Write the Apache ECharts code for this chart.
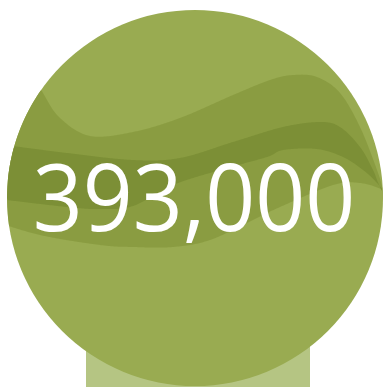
<!DOCTYPE html>
<html><head><meta charset="utf-8">
<script src="https://cdn.jsdelivr.net/npm/echarts@6/dist/echarts.min.js"></script>
<style>html,body{margin:0;padding:0;background:#fff}#c{width:384px;height:387px}</style>
</head><body><div id="c"></div>
<script>
// Data
const categories = ['Total'];
const values = [393000];
// Decorative wave bands (shape guide points, px)
const waveTopMedium = [[-10,20],[25,60],[43,93],[60,118],[90,136],[133,132],[180,118],[233,95],[270,80],[293,75],[317,77],[340,93],[360,127],[377,170],[384,193],[395,230]];
const waveBottomMedium = [[-10,220],[40,235],[100,245],[133,247],[173,247],[210,240],[253,220],[280,207],[333,185],[360,183],[383,190],[395,200]];
const waveTopDark = [[-10,143],[67,153],[133,160],[180,158],[233,142],[283,127],[320,122],[340,127],[360,147],[373,170],[380,187],[395,215]];
const waveBottomDark = [[-10,198],[67,207],[100,209],[133,206],[173,185],[220,170],[267,157],[283,150],[317,149],[343,157],[363,170],[377,183],[395,205]];

const CX = 195, CY = 198, R = 188;

function catmull(pts){
  const out=[];
  for(let i=0;i<pts.length-1;i++){
    const p0=pts[Math.max(i-1,0)],p1=pts[i],p2=pts[i+1],p3=pts[Math.min(i+2,pts.length-1)];
    for(let t=0;t<1;t+=0.05){
      const t2=t*t,t3=t2*t;
      const f=(a,b,c,d)=>0.5*((2*b)+(-a+c)*t+(2*a-5*b+4*c-d)*t2+(-a+3*b-3*c+d)*t3);
      out.push([f(p0[0],p1[0],p2[0],p3[0]),f(p0[1],p1[1],p2[1],p3[1])]);
    }
  }
  out.push(pts[pts.length-1]);
  return out;
}
function makeFn(pts){
  const d=catmull(pts);
  return x=>{
    if(x<=d[0][0])return d[0][1];
    for(let i=0;i<d.length-1;i++){
      if(x>=d[i][0]&&x<=d[i+1][0]){const t=(x-d[i][0])/((d[i+1][0]-d[i][0])||1);return d[i][1]+t*(d[i+1][1]-d[i][1]);}
    }
    return d[d.length-1][1];
  };
}
function band(topPts,botPts){
  const U=makeFn(topPts),L=makeFn(botPts);
  const top=[],bot=[];
  for(let x=CX-R;x<=CX+R;x+=1){
    const h=Math.sqrt(Math.max(0,R*R-(x-CX)*(x-CX)));
    const lo=CY-h,hi=CY+h;
    const clamp=v=>Math.min(hi,Math.max(lo,v));
    top.push([x,clamp(U(x))]);
    bot.push([x,clamp(L(x))]);
  }
  return top.concat(bot.reverse());
}
function fmt(v){return v.toString().replace(/\B(?=(\d{3})+(?!\d))/g, ',');}

const chart = echarts.init(document.getElementById('c'),null,{renderer:'canvas'});
chart.setOption({
  animation:false,
  graphic:[
    {type:'rect',z:0,shape:{x:86,y:338,width:224,height:60},style:{fill:'#b5c583'},silent:true},
    {type:'polygon',z:5,shape:{points:band(waveTopMedium,waveBottomMedium)},style:{fill:'#8a9c41'},silent:true},
    {type:'polygon',z:6,shape:{points:band(waveTopDark,waveBottomDark)},style:{fill:'#7c8f36'},silent:true},
    {type:'text',z:10,style:{text:fmt(values[0]),x:0,y:0,fill:'#ffffff',font:'400 93px "Open Sans", sans-serif',textAlign:'center',textVerticalAlign:'middle'},x:194,y:204,scaleX:0.94,silent:true}
  ],
  series:[{
    type:'pie',z:2,silent:true,center:[CX,CY],radius:[0,R],
    label:{show:false},labelLine:{show:false},
    itemStyle:{color:'#99ab51'},
    data:categories.map((c,i)=>({name:c,value:values[i]}))
  }]
});
</script></body></html>
